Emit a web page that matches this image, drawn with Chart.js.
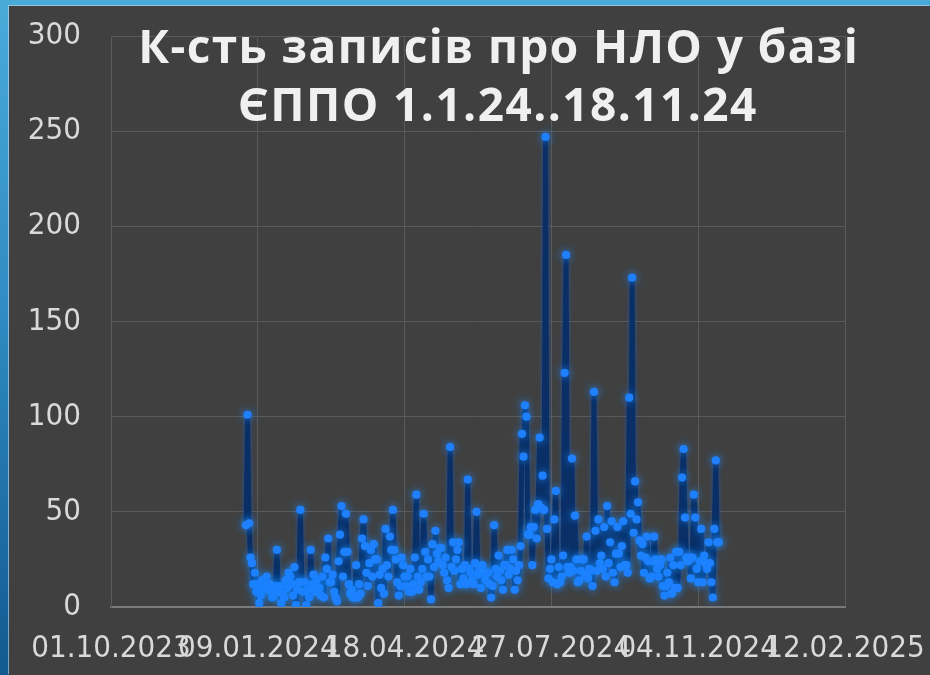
<!DOCTYPE html>
<html><head><meta charset="utf-8">
<script src="https://cdn.jsdelivr.net/npm/chart.js@4.4.1/dist/chart.umd.min.js"></script>
<style>
html,body{margin:0;padding:0;width:930px;height:675px;overflow:hidden;}
body{background:linear-gradient(180deg,#4aaad8 0%,#2f8cc4 45%,#12598f 100%);position:relative;}
#panel{position:absolute;left:9px;top:6px;width:921px;height:669px;background:#404040;box-shadow:-1px -1px 0 rgba(190,220,235,0.6);}
canvas{display:block}
</style></head><body>
<div id="panel"><canvas id="c" width="921" height="669"></canvas></div>
<script>
// ---- text ----
const titleLines = ['К-сть записів про НЛО у базі', 'ЄППО 1.1.24..18.11.24'];
const xTickLabels = ['01.10.2023', '09.01.2024', '18.04.2024', '27.07.2024', '04.11.2024', '12.02.2025'];
const xTickValues = [0, 100, 200, 300, 400, 500];
const yTickValues = [0, 50, 100, 150, 200, 250, 300];

// ---- daily counts, 1.1.2024 .. 18.11.2024 ----
const jan = [43,101,44,26,23,12,18,8,12,2,6,14,10,11,16,9,12,9,5,7,11,30,8,11,2,7,5,14,10,18,16];
const feb = [12,6,21,1,9,13,51,13,8,13,1,9,5,30,12,17,8,14,10,10,6,16,5,26,20,36,13,13,17];
const mar = [8,5,3,24,38,53,16,29,49,29,12,7,9,5,6,22,5,12,7,36,46,32,18,11,23,30,16,33,25,25,2];
const apr = [17,10,20,7,41,22,16,37,30,51,30,25,13,6,11,26,22,16,11,16,8,20,8,12,26,59,16,9,13,20];
const may = [49,29,16,25,16,4,33,21,40,28,24,31,31,22,18,26,14,10,84,21,34,19,25,30,34,12,20,15,22,12,67];
const jun = [20,18,14,12,23,50,17,20,10,22,18,14,18,18,12,5,11,43,20,16,27,19,14,9,22,22,30,17,20,30];
const jul = [25,9,19,14,22,32,91,79,106,100,38,38,42,22,42,51,36,54,89,52,69,51,247,41,15,20,25,13,46,61,12];
const aug = [21,13,16,27,123,185,21,18,21,78,19,48,25,13,14,19,25,25,17,37,15,20,19,11,113,40,19,46,23,27,20];
const sep = [42,16,53,23,34,45,18,13,28,42,28,21,32,45,22,22,18,110,49,173,39,66,46,55,35,27,33,18,26,37];
const oct = [24,15,16,24,37,25,20,16,22,25,11,6,11,18,13,26,7,22,10,29,10,29,22,68,83,47,26,24,26,15,26];
const nov = [59,47,20,13,24,41,13,27,23,20,34,23,13,5,41,77,34,34];

const counts = [].concat(jan, feb, mar, apr, may, jun, jul, aug, sep, oct, nov);
const axisStart = Date.UTC(2023, 9, 1);
const DAY = 86400000;
const points = counts.map((v, i) => ({ x: (Date.UTC(2024, 0, 1 + i) - axisStart) / DAY, y: v }));

const tickFont = { family: '"DejaVu Sans Condensed", "DejaVu Sans", sans-serif', size: 31 };
const tickColor = '#d9d9d9';
const gridColor = '#5a5a5a';

const glowPlugin = {
  id: 'glow',
  beforeDatasetDraw(chart, args) {
    const ctx = chart.ctx;
    ctx.save();
    if (args.index === 0) {
      ctx.shadowColor = 'rgba(25,100,220,0.55)';
      ctx.shadowBlur = 4;
    } else {
      ctx.shadowColor = 'rgba(30,140,255,0.95)';
      ctx.shadowBlur = 9;
    }
  },
  afterDatasetDraw(chart) { chart.ctx.restore(); }
};

function drawSpaced(ctx, text, cx, y, target) {
  ctx.letterSpacing = '0px';
  const w0 = ctx.measureText(text).width;
  const n = [...text].length;
  const ls = (target - w0) / n;
  ctx.letterSpacing = ls.toFixed(2) + 'px';
  ctx.fillText(text, cx + ls / 2, y);
}

const titlePlugin = {
  id: 'overTitle',
  afterDraw(chart) {
    const ctx = chart.ctx;
    ctx.save();
    ctx.fillStyle = '#f0f0f0';
    ctx.textAlign = 'center';
    ctx.textBaseline = 'alphabetic';
    ctx.font = 'bold 46px "Open Sans", Lato, sans-serif';
    drawSpaced(ctx, titleLines[0], 489, 57, 721);
    drawSpaced(ctx, titleLines[1], 488, 115, 520);
    ctx.restore();
  }
};

new Chart(document.getElementById('c'), {
  type: 'line',
  data: {
    datasets: [{
      data: points,
      order: 2,
      borderColor: '#0a2f66',
      borderWidth: 5,
      borderJoinStyle: 'round',
      tension: 0,
      pointRadius: 0,
      fill: false
    }, {
      data: points,
      order: 1,
      showLine: false,
      pointRadius: 4.1,
      pointBackgroundColor: '#1f80ff',
      pointBorderWidth: 0
    }]
  },
  options: {
    responsive: false,
    animation: false,
    devicePixelRatio: 1,
    layout: { padding: { top: 30, right: 85, left: 0, bottom: 0 } },
    plugins: { legend: { display: false }, tooltip: { enabled: false }, title: { display: false } },
    scales: {
      x: {
        type: 'linear', min: 0, max: 500,
        afterBuildTicks(scale) { scale.ticks = xTickValues.map(v => ({ value: v })); },
        afterFit(scale) { scale.height = 68; },
        ticks: {
          autoSkip: false, maxRotation: 0, minRotation: 0, padding: 0,
          color: tickColor, font: tickFont,
          callback: (v) => xTickLabels[xTickValues.indexOf(v)]
        },
        grid: { color: gridColor, drawTicks: true, tickLength: 23, tickColor: 'rgba(0,0,0,0)' },
        border: { color: '#7a7a7a', width: 2 }
      },
      y: {
        min: 0, max: 300,
        afterBuildTicks(scale) { scale.ticks = yTickValues.map(v => ({ value: v })); },
        afterFit(scale) { scale.width = 102; },
        ticks: { padding: 0, color: tickColor, font: tickFont },
        grid: { color: gridColor, drawTicks: true, tickLength: 30, tickColor: 'rgba(0,0,0,0)' },
        border: { color: gridColor }
      }
    }
  },
  plugins: [glowPlugin, titlePlugin]
});
</script>
</body></html>
